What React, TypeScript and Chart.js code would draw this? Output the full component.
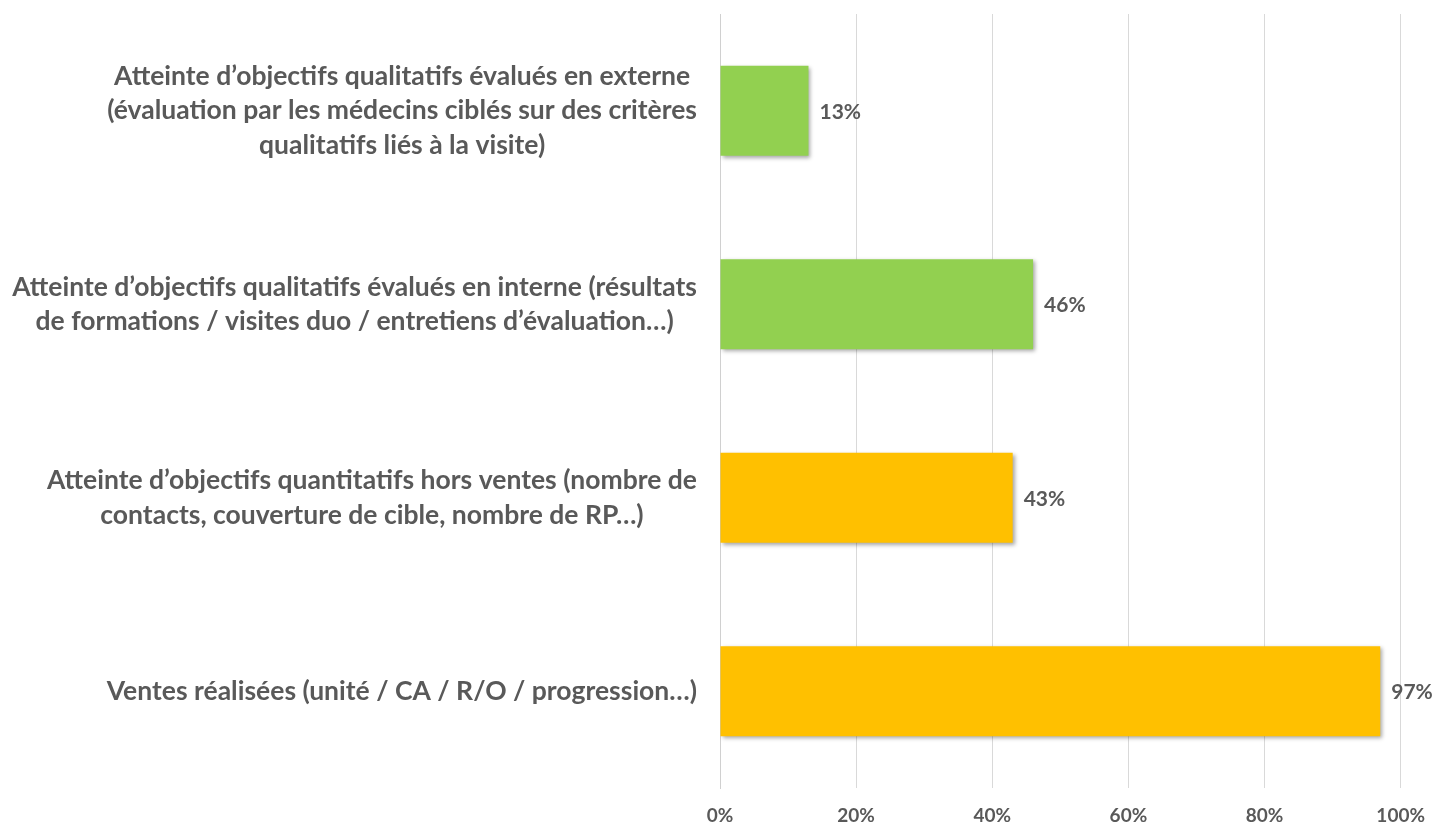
import React, { useEffect, useRef } from "react";
import { Chart, registerables } from "chart.js";

Chart.register(...registerables);

const categories: string[][] = [
  [
    "Atteinte d’objectifs qualitatifs évalués en externe",
    "(évaluation par les médecins ciblés sur des critères",
    "qualitatifs liés à la visite)",
  ],
  [
    "Atteinte d’objectifs qualitatifs évalués en interne (résultats",
    "de formations / visites duo / entretiens d’évaluation…)",
  ],
  [
    "Atteinte d’objectifs quantitatifs hors ventes (nombre de",
    "contacts, couverture de cible, nombre de RP…)",
  ],
  ["Ventes réalisées (unité / CA / R/O / progression…)"],
];
const values: number[] = [13, 46, 43, 97];
const barColors: string[] = ["#92D050", "#92D050", "#FFC000", "#FFC000"];
const tickValues: number[] = [0, 20, 40, 60, 80, 100];

const FONT = "Lato, 'Open Sans', sans-serif";
const TEXT = "#595959";

const shadowPlugin = {
  id: "barShadow",
  beforeDatasetsDraw(chart: any) {
    const ctx = chart.ctx;
    ctx.save();
    ctx.shadowColor = "rgba(0,0,0,0.35)";
    ctx.shadowBlur = 4;
    ctx.shadowOffsetX = 2;
    ctx.shadowOffsetY = 2;
  },
  afterDatasetsDraw(chart: any) {
    chart.ctx.restore();
  },
};

const labelsPlugin = {
  id: "customLabels",
  afterDraw(chart: any) {
    const ctx = chart.ctx;
    const yScale = chart.scales.y;
    const meta = chart.getDatasetMeta(0);
    ctx.save();
    ctx.fillStyle = TEXT;
    ctx.font = `bold 26.5px ${FONT}`;
    ctx.textBaseline = "middle";
    ctx.textAlign = "center";
    const rightEdge = chart.chartArea.left - 23;
    const lineH = 34.5;
    categories.forEach((lines, i) => {
      const cy = yScale.getPixelForValue(i);
      const maxW = Math.max(...lines.map((l) => ctx.measureText(l).width));
      const cx = rightEdge - maxW / 2;
      const startY = cy - ((lines.length - 1) * lineH) / 2;
      lines.forEach((l, j) => ctx.fillText(l, cx, startY + j * lineH));
    });
    ctx.font = `bold 21px ${FONT}`;
    ctx.textAlign = "left";
    meta.data.forEach((bar: any, i: number) => {
      ctx.fillText(values[i] + "%", bar.x + 11, bar.y + 1);
    });
    ctx.restore();
  },
};

export default function App() {
  const ref = useRef<HTMLCanvasElement>(null);
  useEffect(() => {
    document.body.style.margin = "0";
    document.body.style.overflow = "hidden";
    const chart = new Chart(ref.current!, {
      type: "bar",
      data: {
        labels: categories.map((c) => c.join(" ")),
        datasets: [
          {
            data: values,
            backgroundColor: barColors,
            borderWidth: 0,
            categoryPercentage: 1,
            barPercentage: 0.465,
          },
        ],
      },
      options: {
        indexAxis: "y",
        animation: false,
        responsive: false,
        maintainAspectRatio: false,
        layout: { padding: { left: 720, right: 37, top: 14, bottom: 0 } },
        plugins: { legend: { display: false }, tooltip: { enabled: false } },
        scales: {
          x: {
            min: 0,
            max: 100,
            afterBuildTicks(scale: any) {
              scale.ticks = tickValues.map((v) => ({ value: v }));
            },
            afterFit(scale: any) {
              scale.height = 38;
            },
            ticks: {
              callback: (v: any) => v + "%",
              color: TEXT,
              font: { family: FONT, size: 19, weight: "bold" },
              padding: 16,
              maxRotation: 0,
            },
            grid: { color: "#d9d9d9", lineWidth: 1, drawTicks: false },
            border: { display: false },
          },
          y: {
            ticks: { display: false },
            grid: { display: false, drawTicks: false },
            border: { display: true, color: "#d0d0d0", width: 1 },
          },
        },
      },
      plugins: [shadowPlugin, labelsPlugin],
    });
    return () => chart.destroy();
  }, []);
  return (
    <div style={{ width: 1441, height: 826, background: "#fff" }}>
      <canvas ref={ref} width={1441} height={826} style={{ display: "block" }} />
    </div>
  );
}
